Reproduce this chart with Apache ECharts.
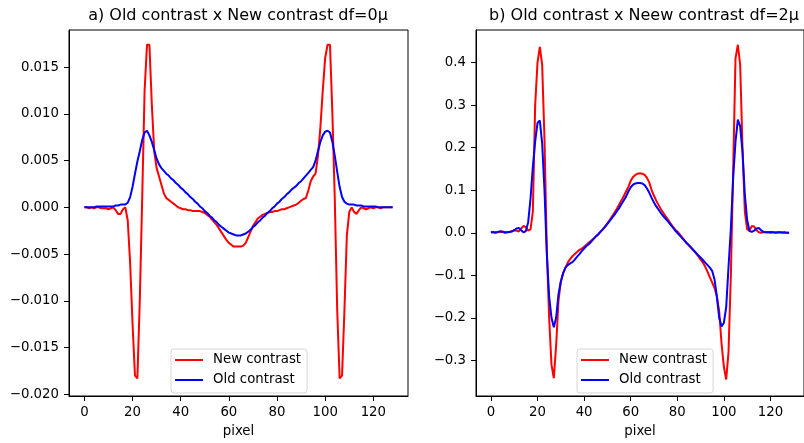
<!DOCTYPE html>
<html>
<head>
<meta charset="utf-8">
<script src="https://cdn.jsdelivr.net/npm/echarts@6/dist/echarts.min.js"></script>
<style>
  html, body { margin: 0; padding: 0; background: #fff; }
  #chart { width: 804px; height: 443px; }
</style>
</head>
<body>
<div id="chart"></div>
<script>
// Pixel index along the profile (0..128)
const pixel = Array.from({ length: 129 }, (_, i) => i);

// Panel a) df = 0µ
const newContrastA = [
  0, 0, -0.0001, 0, -0.0001, 0, 0, -0.0001, -0.0001, -0.0001,
  -0.0002, -0.0001, 0, -0.0003, -0.0007, -0.0007, -0.0002, 0, -0.0014, -0.0060,
  -0.0125, -0.0180, -0.0183, -0.0100, 0.0010, 0.0125, 0.0174, 0.0174, 0.0110, 0.0060,
  0.0042, 0.0033, 0.0024, 0.0015, 0.0010, 0.0008, 0.0006, 0.0004, 0.0002, 0.0000,
  -0.0001, -0.0002, -0.0002, -0.0003, -0.0003, -0.0004, -0.0004, -0.0004, -0.0004, -0.0005,
  -0.0006, -0.0008, -0.0010, -0.0013, -0.0016, -0.0019, -0.0023, -0.0027, -0.0031, -0.0035,
  -0.0038, -0.0040, -0.0042, -0.0042, -0.0042, -0.0042, -0.0041, -0.0038, -0.0032, -0.0026,
  -0.0020, -0.0016, -0.0012, -0.0010, -0.0008, -0.0007, -0.0006, -0.0005, -0.0005, -0.0004,
  -0.0004, -0.0003, -0.0002, -0.0002, -0.0001, 0.0000, 0.0001, 0.0002, 0.0003, 0.0005,
  0.0007, 0.0009, 0.0010, 0.0018, 0.0028, 0.0033, 0.0036, 0.0055, 0.0085, 0.0125,
  0.0160, 0.0174, 0.0174, 0.0100, 0.0008, -0.0110, -0.0183, -0.0180, -0.0110, -0.0030,
  -0.0005, 0.0000, -0.0005, -0.0007, -0.0003, 0.0000, -0.0001, -0.0002, -0.0001, 0,
  -0.0001, 0, 0, -0.0001, 0, 0, 0, 0, 0
];
const oldContrastA = [
  0, 0, 0, 0, 0, 0.0001, 0.0001, 0.0001, 0.0001, 0.0001,
  0.0001, 0.0001, 0.0001, 0.0002, 0.0002, 0.0003, 0.0003, 0.0003, 0.0005, 0.0011,
  0.0022, 0.0036, 0.0049, 0.0060, 0.0072, 0.0080, 0.0082, 0.0077, 0.0070, 0.0061,
  0.0052, 0.0046, 0.0042, 0.0039, 0.0036, 0.0034, 0.0031, 0.0029, 0.0026, 0.0024,
  0.0021, 0.0019, 0.0016, 0.0014, 0.0011, 0.0009, 0.0006, 0.0004, 0.0001, -0.0001,
  -0.0004, -0.0006, -0.0009, -0.0011, -0.0014, -0.0016, -0.0019, -0.0021, -0.0023, -0.0025,
  -0.0027, -0.0028, -0.0029, -0.0030, -0.0030, -0.0030, -0.0029, -0.0028, -0.0026, -0.0024,
  -0.0021, -0.0019, -0.0016, -0.0014, -0.0011, -0.0009, -0.0006, -0.0004, -0.0001, 0.0001,
  0.0004, 0.0006, 0.0009, 0.0011, 0.0014, 0.0016, 0.0019, 0.0021, 0.0023, 0.0026,
  0.0028, 0.0031, 0.0034, 0.0037, 0.0040, 0.0043, 0.0050, 0.0060, 0.0070, 0.0077,
  0.0081, 0.0082, 0.0080, 0.0070, 0.0055, 0.0038, 0.0022, 0.0011, 0.0006, 0.0004,
  0.0003, 0.0003, 0.0003, 0.0002, 0.0002, 0.0002, 0.0001, 0.0001, 0.0001, 0.0001,
  0.0001, 0.0001, 0, 0, 0, 0, 0, 0, 0
];

// Panel b) df = 2µ
const newContrastB = [
  0.001, 0.002, 0.001, 0.001, 0.002, 0.003, 0.002, 0.001, 0.002, 0.004,
  0.006, 0.005, 0.003, 0.010, 0.016, 0.013, 0.005, 0.008, 0.050, 0.300,
  0.400, 0.437, 0.395, 0.220, -0.040, -0.200, -0.310, -0.342, -0.265, -0.160,
  -0.115, -0.095, -0.082, -0.070, -0.062, -0.055, -0.050, -0.045, -0.040, -0.037,
  -0.033, -0.028, -0.023, -0.019, -0.014, -0.009, -0.004, 0.002, 0.008, 0.015,
  0.022, 0.030, 0.039, 0.047, 0.056, 0.066, 0.076, 0.086, 0.097, 0.108,
  0.122, 0.131, 0.136, 0.139, 0.140, 0.139, 0.136, 0.129, 0.118, 0.100,
  0.087, 0.075, 0.065, 0.055, 0.047, 0.039, 0.031, 0.023, 0.015, 0.008,
  0.003, -0.003, -0.010, -0.017, -0.024, -0.030, -0.036, -0.042, -0.048, -0.055,
  -0.063, -0.070, -0.080, -0.092, -0.105, -0.117, -0.130, -0.150, -0.185, -0.260,
  -0.315, -0.345, -0.280, -0.100, 0.150, 0.410, 0.442, 0.395, 0.200, 0.050,
  0.008, 0.005, 0.016, 0.015, 0.006, 0.001, 0.000, 0.001, 0.002, 0.001,
  0.000, 0.001, 0.001, 0.000, 0.001, 0.001, 0.000, 0.000, 0.000
];
const oldContrastB = [
  0.001, 0.001, 0.000, 0.002, 0.004, 0.002, 0.000, 0.001, 0.002, 0.003,
  0.006, 0.010, 0.011, 0.006, 0.001, 0.004, 0.025, 0.080, 0.155, 0.215,
  0.258, 0.264, 0.210, 0.100, -0.050, -0.150, -0.200, -0.222, -0.200, -0.145,
  -0.115, -0.095, -0.082, -0.076, -0.072, -0.069, -0.063, -0.056, -0.050, -0.043,
  -0.037, -0.031, -0.027, -0.021, -0.015, -0.009, -0.004, 0.002, 0.008, 0.014,
  0.021, 0.028, 0.035, 0.042, 0.050, 0.058, 0.067, 0.076, 0.085, 0.097,
  0.107, 0.113, 0.116, 0.117, 0.117, 0.116, 0.112, 0.104, 0.094, 0.082,
  0.071, 0.062, 0.054, 0.046, 0.039, 0.033, 0.027, 0.020, 0.013, 0.006,
  0.000, -0.006, -0.012, -0.018, -0.024, -0.029, -0.035, -0.041, -0.047, -0.053,
  -0.058, -0.064, -0.070, -0.076, -0.082, -0.090, -0.110, -0.150, -0.200, -0.220,
  -0.212, -0.175, -0.080, 0.010, 0.130, 0.215, 0.266, 0.250, 0.190, 0.090,
  0.030, 0.004, 0.002, 0.005, 0.010, 0.011, 0.006, 0.002, 0.001, 0.001,
  0.002, 0.001, 0.000, 0.001, 0.001, 0.000, 0.001, 0.000, 0.000
];

// Tick positions
const xTicks = [0, 20, 40, 60, 80, 100, 120];
const yTicksA = [-0.020, -0.015, -0.010, -0.005, 0.000, 0.005, 0.010, 0.015];
const yTicksB = [-0.3, -0.2, -0.1, 0.0, 0.1, 0.2, 0.3, 0.4];

const titles = ['a) Old contrast x New contrast df=0\u03bc', 'b) Old contrast x Neew contrast df=2\u03bc'];
const seriesNames = ['New contrast', 'Old contrast'];

const FONT = 'DejaVu Sans';
const MINUS = '\u2212';
const fmt = (digits) => (v) => {
  const s = Math.abs(v).toFixed(digits);
  return (v < -1e-12 ? MINUS : '') + s;
};
const pairs = (ys) => pixel.map((x, i) => [x, ys[i]]);

function xAxisFor(gridIndex) {
  return {
    type: 'value', gridIndex, min: -6.4, max: 134.4,
    name: 'pixel', nameLocation: 'middle', nameGap: 29,
    nameTextStyle: { fontFamily: FONT, fontSize: 13.3, color: '#000' },
    axisLine: { show: true, onZero: false, lineStyle: { color: '#000', width: 1 } },
    axisTick: { show: true, inside: false, length: 5, customValues: xTicks, lineStyle: { color: '#000' } },
    axisLabel: { customValues: xTicks, fontFamily: FONT, fontSize: 13.3, color: '#000', margin: 10 },
    splitLine: { show: false }
  };
}
function yAxisFor(gridIndex, min, max, ticks, digits) {
  return {
    type: 'value', gridIndex, min, max,
    axisLine: { show: true, onZero: false, lineStyle: { color: '#000', width: 1 } },
    axisTick: { show: true, inside: false, length: 5, customValues: ticks, lineStyle: { color: '#000' } },
    axisLabel: { customValues: ticks, formatter: fmt(digits), fontFamily: FONT, fontSize: 13.3, color: '#000', margin: 10 },
    splitLine: { show: false }
  };
}
function legendAt(left) {
  return {
    orient: 'vertical', left, top: 349,
    data: seriesNames,
    icon: 'rect', itemWidth: 28, itemHeight: 2, itemGap: 6,
    padding: [4, 6, 6, 4],
    backgroundColor: '#fff', borderColor: '#d6d6d6', borderWidth: 1, borderRadius: 3,
    selectedMode: false,
    textStyle: { fontFamily: FONT, fontSize: 13.3, color: '#000', lineHeight: 14, padding: [0, 0, 0, 5] }
  };
}
function line(name, color, xi, data) {
  return {
    name, type: 'line', xAxisIndex: xi, yAxisIndex: xi, data: pairs(data),
    showSymbol: false, symbol: 'none', smooth: false, animation: false,
    lineStyle: { color, width: 2 }, itemStyle: { color }
  };
}

const chart = echarts.init(document.getElementById('chart'), null, { renderer: 'canvas', width: 804, height: 443 });
chart.setOption({
  animation: false,
  backgroundColor: '#fff',
  title: [
    { text: titles[0], left: 233, top: 3, textAlign: 'center',
      textStyle: { fontFamily: FONT, fontSize: 16, fontWeight: 'normal', color: '#000' } },
    { text: titles[1], left: 639, top: 3, textAlign: 'center',
      textStyle: { fontFamily: FONT, fontSize: 16, fontWeight: 'normal', color: '#000' } }
  ],
  grid: [
    { left: 69, width: 339, top: 30, height: 370, show: true, borderColor: '#000', borderWidth: 1, backgroundColor: '#fff' },
    { left: 476, width: 338, top: 30, height: 370, show: true, borderColor: '#000', borderWidth: 1, backgroundColor: '#fff' }
  ],
  xAxis: [xAxisFor(0), xAxisFor(1)],
  yAxis: [
    yAxisFor(0, -0.02018, 0.018974, yTicksA, 3),
    yAxisFor(1, -0.3837, 0.4767, yTicksB, 1)
  ],
  legend: [legendAt(171), legendAt(577)],
  series: [
    line(seriesNames[0], '#ff0000', 0, newContrastA),
    line(seriesNames[1], '#0000ff', 0, oldContrastA),
    line(seriesNames[0], '#ff0000', 1, newContrastB),
    line(seriesNames[1], '#0000ff', 1, oldContrastB)
  ]
});
</script>
</body>
</html>
